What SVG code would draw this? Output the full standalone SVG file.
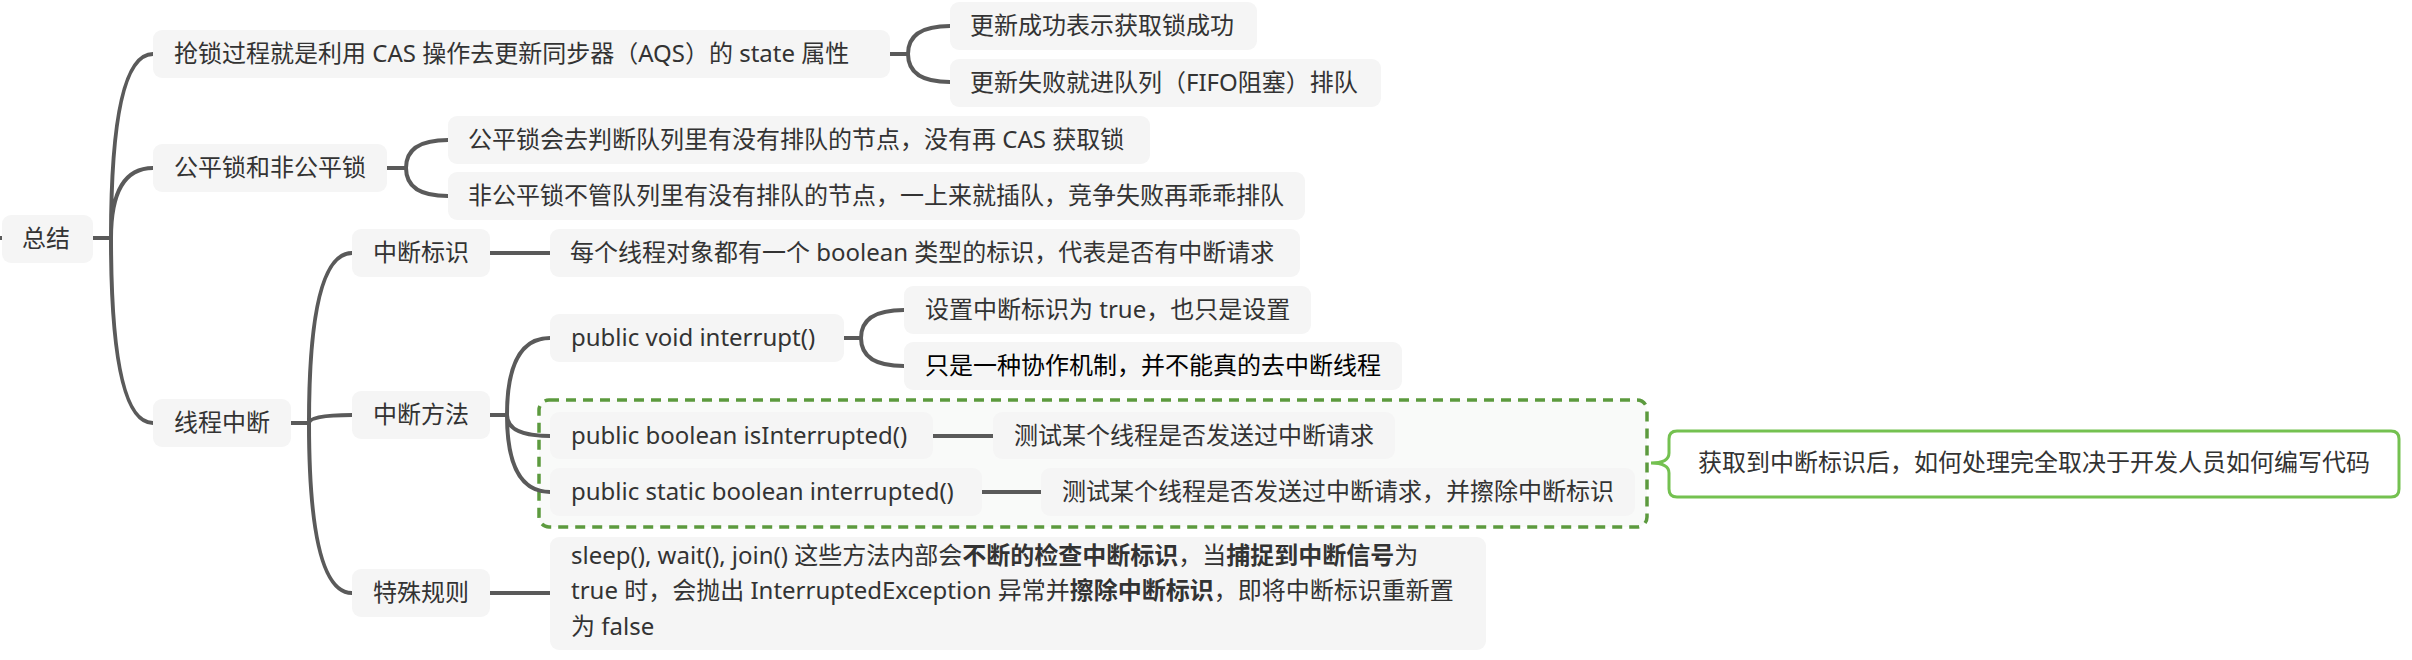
<svg xmlns="http://www.w3.org/2000/svg" width="2412" height="660" viewBox="0 0 2412 660">
<style>
.n{fill:#f5f5f5;}
.t{font-family:"Noto Sans","Noto Sans CJK SC",sans-serif;font-size:24px;fill:#333333;}
.k{fill:#000000;}
.b{font-weight:bold;}
.c{fill:none;stroke:#5a5a5a;stroke-width:4;}
</style>
<rect width="2412" height="660" fill="#ffffff"/>
<g id="boundary">
<rect x="539" y="400" width="1108" height="127" rx="10" fill="#f9faf9" stroke="#5c9a3e" stroke-width="3.5" stroke-dasharray="10 7"/>
</g>
<g id="connectors">
<path class="c" d="M0 238 H3"/>
<path class="c" d="M93 238 H111 M111 238 Q111 54 153 54 M111 238 Q111 168 153 168 M111 238 Q111 423 153 423"/>
<path class="c" d="M890 54 H908 M908 54 Q908 26 950 26 M908 54 Q908 82 950 82"/>
<path class="c" d="M387 168 H406 M406 168 Q406 140 448 140 M406 168 Q406 196 448 196"/>
<path class="c" d="M291 423 H309 M309 423 Q309 253 352 253 M309 423 Q309 415 352 415 M309 423 Q309 593 352 593"/>
<path class="c" d="M490 253 H550"/>
<path class="c" d="M490 415 H507 M507 415 Q507 338 550 338 M507 415 Q507 436 550 436 M507 415 Q507 492 550 492"/>
<path class="c" d="M844 338 H861 M861 338 Q861 310 904 310 M861 338 Q861 366 904 366"/>
<path class="c" d="M933 436 H993"/>
<path class="c" d="M982 492 H1041"/>
<path class="c" d="M490 593 H550"/>
</g>
<g id="root"><rect class="n" x="2" y="215" width="91" height="48" rx="9"/><text class="t" x="22" y="247">总结</text></g>
<g id="n1"><rect class="n" x="153" y="30" width="737" height="48" rx="9"/><text class="t" x="174" y="62">抢锁过程就是利用 CAS 操作去更新同步器（AQS）的 state 属性</text></g>
<g id="n1a"><rect class="n" x="950" y="2" width="307" height="48" rx="9"/><text class="t" x="970" y="34">更新成功表示获取锁成功</text></g>
<g id="n1b"><rect class="n" x="950" y="59" width="431" height="48" rx="9"/><text class="t" x="970" y="91">更新失败就进队列（FIFO阻塞）排队</text></g>
<g id="n2"><rect class="n" x="153" y="144" width="234" height="48" rx="9"/><text class="t" x="174" y="176">公平锁和非公平锁</text></g>
<g id="n2a"><rect class="n" x="448" y="116" width="702" height="48" rx="9"/><text class="t" x="468" y="148">公平锁会去判断队列里有没有排队的节点，没有再 CAS 获取锁</text></g>
<g id="n2b"><rect class="n" x="448" y="172" width="857" height="48" rx="9"/><text class="t" x="468" y="204">非公平锁不管队列里有没有排队的节点，一上来就插队，竞争失败再乖乖排队</text></g>
<g id="n3"><rect class="n" x="153" y="399" width="138" height="48" rx="9"/><text class="t" x="174" y="431">线程中断</text></g>
<g id="n3a"><rect class="n" x="352" y="229" width="138" height="48" rx="9"/><text class="t" x="373" y="261">中断标识</text></g>
<g id="n3a1"><rect class="n" x="550" y="229" width="750" height="48" rx="9"/><text class="t" x="570" y="261">每个线程对象都有一个 boolean 类型的标识，代表是否有中断请求</text></g>
<g id="n3b"><rect class="n" x="352" y="391" width="138" height="48" rx="9"/><text class="t" x="373" y="423">中断方法</text></g>
<g id="n3b1"><rect class="n" x="550" y="314" width="294" height="48" rx="9"/><text class="t" x="571" y="346">public void interrupt()</text></g>
<g id="n3b1a"><rect class="n" x="904" y="286" width="407" height="48" rx="9"/><text class="t" x="925" y="318">设置中断标识为 true，也只是设置</text></g>
<g id="n3b1b"><rect class="n" x="904" y="342" width="498" height="48" rx="9"/><text class="t k" x="925" y="374">只是一种协作机制，并不能真的去中断线程</text></g>
<g id="n3b2"><rect class="n" x="550" y="412" width="383" height="47" rx="9"/><text class="t" x="571" y="444">public boolean isInterrupted()</text></g>
<g id="n3b2a"><rect class="n" x="993" y="412" width="402" height="47" rx="9"/><text class="t" x="1014" y="444">测试某个线程是否发送过中断请求</text></g>
<g id="n3b3"><rect class="n" x="550" y="468" width="432" height="48" rx="9"/><text class="t" x="571" y="500">public static boolean interrupted()</text></g>
<g id="n3b3a"><rect class="n" x="1041" y="468" width="594" height="48" rx="9"/><text class="t" x="1062" y="500">测试某个线程是否发送过中断请求，并擦除中断标识</text></g>
<g id="n3c"><rect class="n" x="352" y="569" width="138" height="48" rx="9"/><text class="t" x="373" y="601">特殊规则</text></g>
<g id="n3c1"><rect class="n" x="550" y="537" width="936" height="113" rx="9"/>
<text class="t" x="571" y="564">sleep(), wait(), join() 这些方法内部会<tspan class="b">不断的检查中断标识</tspan>，当<tspan class="b">捕捉到中断信号</tspan>为</text>
<text class="t" x="571" y="599">true 时，会抛出 InterruptedException 异常并<tspan class="b">擦除中断标识</tspan>，即将中断标识重新置</text>
<text class="t" x="571" y="635">为 false</text></g>
<g id="callout"><path d="M1677 431 H2391 Q2399 431 2399 439 V489 Q2399 497 2391 497 H1677 Q1669 497 1669 489 V473 Q1669 463 1651 463 Q1669 463 1669 453 V439 Q1669 431 1677 431 Z" fill="#ffffff" stroke="#74c150" stroke-width="3"/><text class="t" x="1698" y="471">获取到中断标识后，如何处理完全取决于开发人员如何编写代码</text></g>
</svg>
